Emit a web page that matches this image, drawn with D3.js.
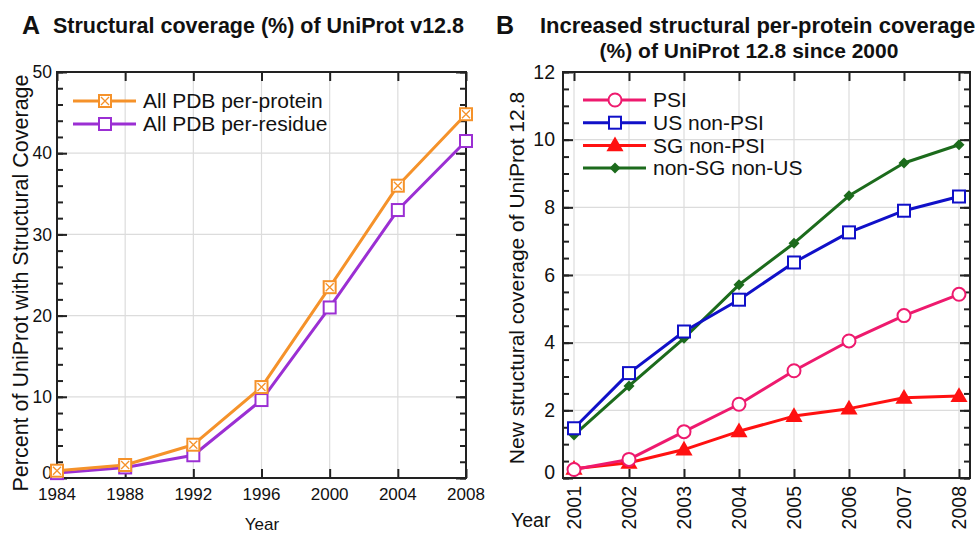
<!DOCTYPE html>
<html>
<head>
<meta charset="utf-8">
<script src="https://cdn.jsdelivr.net/npm/d3@7"></script>
<style>
  body { margin: 0; background: #fff; }
  svg { display: block; font-family: "Liberation Sans", Arial, sans-serif; }
</style>
</head>
<body>
<div id="chart"></div>
<script>
// panel A data
const yearsA = [1984, 1988, 1992, 1996, 2000, 2004, 2008];
const perProtein = [0.9, 1.6, 4.1, 11.2, 23.5, 36.0, 44.8];
const perResidue = [0.6, 1.3, 2.8, 9.6, 21.0, 33.0, 41.5];

// panel B data
const yearsB = [2001, 2002, 2003, 2004, 2005, 2006, 2007, 2008];
const psi = [0.25, 0.55, 1.37, 2.18, 3.17, 4.05, 4.8, 5.43];
const usNonPsi = [1.47, 3.1, 4.33, 5.27, 6.37, 7.26, 7.9, 8.32];
const sgNonPsi = [0.27, 0.45, 0.84, 1.38, 1.83, 2.05, 2.37, 2.42];
const nonSgNonUs = [1.27, 2.72, 4.13, 5.71, 6.94, 8.34, 9.31, 9.85];

const W = 975, H = 533;
const GRID = '#dcdcdc';
const FRAME = '#222';

let svg = d3.select('#chart').append('svg')
  .attr('width', W)
  .attr('height', H);

// draws grid, frame and inward ticks for one panel
function frame (g, x, y, xTicks, yMajor, yMinor, box) {
  g.append('g').selectAll('line.gx')
    .data(xTicks)
    .enter().append('line')
    .attr('x1', (d) => x(d)).attr('x2', (d) => x(d))
    .attr('y1', box.top).attr('y2', box.bottom)
    .attr('stroke', GRID).attr('stroke-width', 1.2);
  g.append('g').selectAll('line.gy')
    .data(yMajor)
    .enter().append('line')
    .attr('x1', box.left).attr('x2', box.right)
    .attr('y1', (d) => y(d)).attr('y2', (d) => y(d))
    .attr('stroke', GRID).attr('stroke-width', 1.2);

  let axes = [
    [d3.axisBottom(x).tickValues(xTicks).tickSize(-9), `translate(0,${box.bottom})`],
    [d3.axisTop(x).tickValues(xTicks).tickSize(-9), `translate(0,${box.top})`],
    [d3.axisLeft(y).tickValues(yMinor).tickSize(-6), `translate(${box.left},0)`],
    [d3.axisLeft(y).tickValues(yMajor).tickSize(-10), `translate(${box.left},0)`],
    [d3.axisRight(y).tickValues(yMinor).tickSize(-6), `translate(${box.right},0)`],
    [d3.axisRight(y).tickValues(yMajor).tickSize(-10), `translate(${box.right},0)`],
  ];
  axes.forEach(([ax, tr]) => {
    let a = g.append('g').attr('transform', tr).call(ax.tickFormat(''));
    a.selectAll('.domain').remove();
    a.selectAll('line').attr('stroke', FRAME).attr('stroke-width', 2);
  });

  g.append('rect')
    .attr('x', box.left).attr('y', box.top)
    .attr('width', box.right - box.left)
    .attr('height', box.bottom - box.top)
    .attr('fill', 'none')
    .attr('stroke', FRAME)
    .attr('stroke-width', 2);
}

function marker (sel, kind, color, size) {
  let h = size / 2;
  switch (kind) {
    case 'squareX':
      sel.append('rect').attr('x', -h).attr('y', -h).attr('width', size).attr('height', size)
        .attr('fill', '#fff').attr('stroke', color).attr('stroke-width', 2);
      sel.append('path').attr('d', `M${-h + 2},${-h + 2}L${h - 2},${h - 2}M${-h + 2},${h - 2}L${h - 2},${-h + 2}`)
        .attr('stroke', color).attr('stroke-width', 1.3);
      break;
    case 'square':
      sel.append('rect').attr('x', -h).attr('y', -h).attr('width', size).attr('height', size)
        .attr('fill', '#fff').attr('stroke', color).attr('stroke-width', 2);
      break;
    case 'circle':
      sel.append('circle').attr('r', h)
        .attr('fill', '#fff').attr('stroke', color).attr('stroke-width', 2);
      break;
    case 'triangle':
      sel.append('path').attr('d', d3.symbol(d3.symbolTriangle, size * size * 0.75)())
        .attr('transform', 'translate(0,1)')
        .attr('fill', color);
      break;
    case 'diamond':
      sel.append('path').attr('d', `M0,${-h}L${h},0L0,${h}L${-h},0Z`)
        .attr('fill', color);
      break;
  }
}

function drawSeries (g, x, y, years, values, color, kind, size) {
  let pts = years.map((yr, i) => [yr, values[i]]);
  let line = d3.line()
    .x((d) => x(d[0]))
    .y((d) => y(d[1]));
  g.append('path')
    .attr('d', line(pts))
    .attr('fill', 'none')
    .attr('stroke', color)
    .attr('stroke-width', 3)
    .attr('stroke-linejoin', 'round');
  g.selectAll(null)
    .data(pts)
    .enter().append('g')
    .attr('transform', (d) => `translate(${x(d[0])},${y(d[1])})`)
    .each(function () { marker(d3.select(this), kind, color, size); });
}

function legend (g, items, x0, y0, step, fontSize) {
  items.forEach((it, i) => {
    let row = g.append('g').attr('transform', `translate(${x0},${y0 + i * step})`);
    row.append('line').attr('x1', 0).attr('x2', 63)
      .attr('stroke', it.color).attr('stroke-width', 3);
    let m = row.append('g').attr('transform', 'translate(32,0)');
    marker(m, it.kind, it.color, it.size);
    row.append('text').attr('x', 70).attr('dy', '0.35em')
      .attr('font-size', fontSize).attr('fill', '#111')
      .text(it.name);
  });
}

// ---------- Panel A ----------
const boxA = { left: 57, right: 466, top: 72, bottom: 478 };
let xA = d3.scaleLinear().domain([1984, 2008]).range([boxA.left, boxA.right]);
let yA = d3.scaleLinear().domain([0, 50]).range([boxA.bottom, boxA.top]);
let gA = svg.append('g');

frame(gA, xA, yA, yearsA, d3.range(0, 51, 10), d3.range(0, 51, 2), boxA);

gA.selectAll('text.xt')
  .data(yearsA)
  .enter().append('text')
  .attr('x', (d) => xA(d)).attr('y', 500)
  .attr('text-anchor', 'middle').attr('font-size', 17).attr('fill', '#111')
  .text((d) => d);
gA.selectAll('text.yt')
  .data(d3.range(0, 51, 10))
  .enter().append('text')
  .attr('x', 52).attr('y', (d) => yA(d)).attr('dy', d => d === 0 ? '0.05em' : '0.35em')
  .attr('text-anchor', 'end').attr('font-size', 17.5).attr('fill', '#111')
  .text((d) => d);

gA.append('text').attr('x', 262).attr('y', 530)
  .attr('text-anchor', 'middle').attr('font-size', 17).attr('fill', '#111')
  .text('Year');
gA.append('text').attr('transform', 'translate(28,283) rotate(-90)')
  .attr('text-anchor', 'middle').attr('font-size', 21.5).attr('fill', '#111')
  .text('Percent of UniProt with Structural Coverage');

gA.append('text').attr('x', 22).attr('y', 34)
  .attr('font-size', 25).attr('font-weight', 'bold').attr('fill', '#111')
  .text('A');
gA.append('text').attr('x', 53).attr('y', 33)
  .attr('font-size', 21.5).attr('font-weight', 'bold').attr('fill', '#111')
  .text('Structural coverage (%) of UniProt v12.8');

drawSeries(gA, xA, yA, yearsA, perResidue, '#9b2fd3', 'square', 12);
drawSeries(gA, xA, yA, yearsA, perProtein, '#f5922a', 'squareX', 12);

legend(gA, [
  { name: 'All PDB per-protein', color: '#f5922a', kind: 'squareX', size: 12 },
  { name: 'All PDB per-residue', color: '#9b2fd3', kind: 'square', size: 12 },
], 73, 101, 23, 21);

// ---------- Panel B ----------
const boxB = { left: 563, right: 970, top: 72, bottom: 478 };
let xB = d3.scaleLinear().domain([2000.8, 2008.2]).range([boxB.left, boxB.right]);
let yB = d3.scaleLinear().domain([0, 12]).range([boxB.bottom, boxB.top]);
let gB = svg.append('g');

frame(gB, xB, yB, yearsB, d3.range(0, 13, 2), d3.range(0, 12.01, 0.5), boxB);

gB.selectAll('text.xt')
  .data(yearsB)
  .enter().append('text')
  .attr('transform', (d) => `translate(${xB(d)},486) rotate(-90)`)
  .attr('dy', '0.35em')
  .attr('text-anchor', 'end').attr('font-size', 19.5).attr('fill', '#111')
  .text((d) => d);
gB.selectAll('text.yt')
  .data(d3.range(0, 13, 2))
  .enter().append('text')
  .attr('x', 555).attr('y', (d) => yB(d)).attr('dy', d => d === 0 ? '0.05em' : '0.35em')
  .attr('text-anchor', 'end').attr('font-size', 19.5).attr('fill', '#111')
  .text((d) => d);

gB.append('text').attr('x', 511).attr('y', 527)
  .attr('font-size', 19.5).attr('fill', '#111')
  .text('Year');
gB.append('text').attr('transform', 'translate(524,278) rotate(-90)')
  .attr('text-anchor', 'middle').attr('font-size', 21).attr('fill', '#111')
  .text('New structural coverage of UniProt 12.8');

gB.append('text').attr('x', 496).attr('y', 34)
  .attr('font-size', 25).attr('font-weight', 'bold').attr('fill', '#111')
  .text('B');
gB.append('text').attr('x', 540).attr('y', 33)
  .attr('font-size', 22).attr('font-weight', 'bold').attr('fill', '#111')
  .text('Increased structural per-protein coverage');
gB.append('text').attr('x', 749).attr('y', 58)
  .attr('text-anchor', 'middle')
  .attr('font-size', 21).attr('font-weight', 'bold').attr('fill', '#111')
  .text('(%) of UniProt 12.8 since 2000');

drawSeries(gB, xB, yB, yearsB, sgNonPsi, '#ff1111', 'triangle', 13);
drawSeries(gB, xB, yB, yearsB, psi, '#ee1a6e', 'circle', 13);
drawSeries(gB, xB, yB, yearsB, nonSgNonUs, '#1c6b1c', 'diamond', 11);
drawSeries(gB, xB, yB, yearsB, usNonPsi, '#1010c8', 'square', 12);

legend(gB, [
  { name: 'PSI', color: '#ee1a6e', kind: 'circle', size: 13 },
  { name: 'US non-PSI', color: '#1010c8', kind: 'square', size: 12 },
  { name: 'SG non-PSI', color: '#ff1111', kind: 'triangle', size: 13 },
  { name: 'non-SG non-US', color: '#1c6b1c', kind: 'diamond', size: 11 },
], 583, 100, 22.7, 21);
</script>
</body>
</html>
